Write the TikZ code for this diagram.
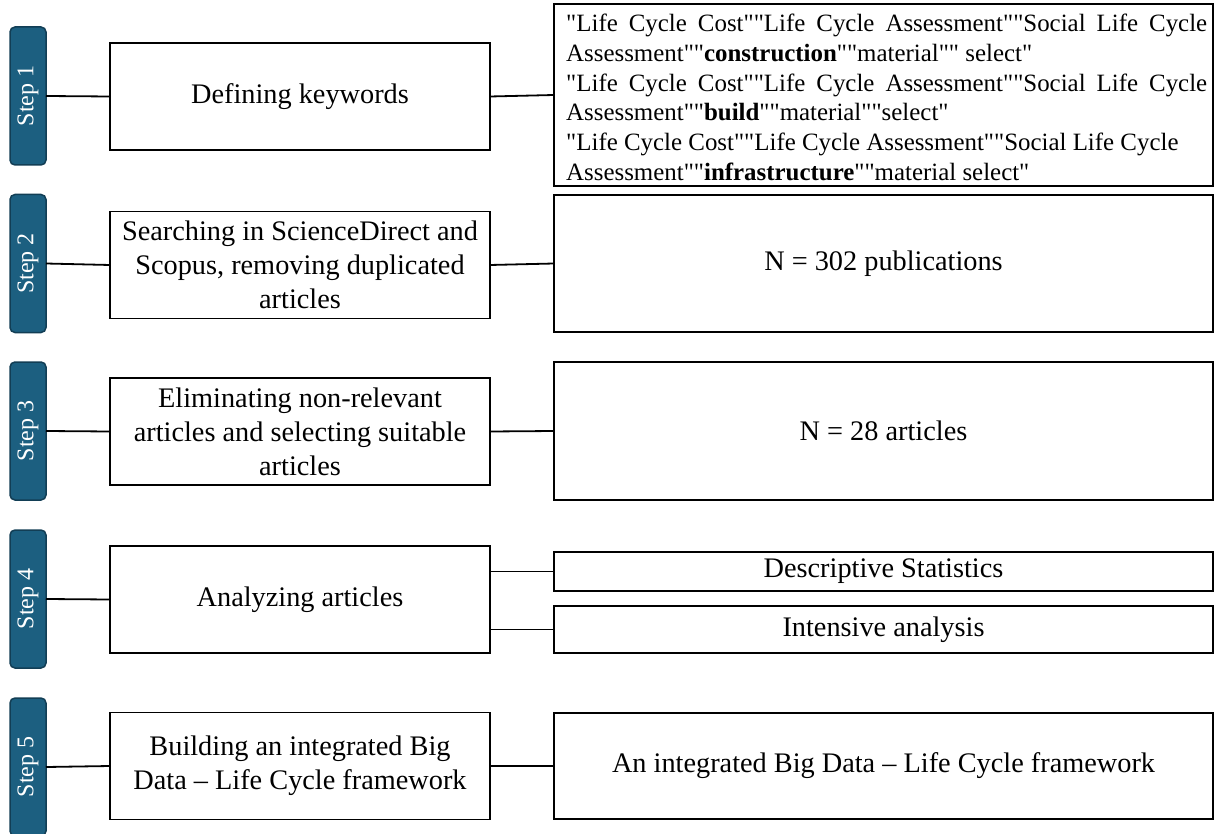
\documentclass[tikz,border=0pt]{standalone}
\usepackage{fontspec}
\setmainfont{Liberation Serif}[Ligatures=TeXOff]
\definecolor{stepfill}{HTML}{1C5F80}
\definecolor{stepdraw}{HTML}{123E55}
\begin{document}
\begin{tikzpicture}[x=1pt,y=-1pt,
  stepbox/.style={draw=stepdraw, fill=stepfill, line width=1.5pt, rounded corners=5pt,
    minimum width=138pt, minimum height=36pt, inner sep=0pt, outer sep=0pt, rotate=90,
    text=white, font=\fontsize{24}{26}\selectfont},
  leftbox/.style={draw, line width=1.6pt, minimum width=380pt, minimum height=107pt,
    inner sep=0pt, outer sep=0pt, align=center, font=\fontsize{28.3}{34}\selectfont},
  rightbox/.style={draw, line width=1.6pt, minimum width=659pt,
    inner sep=0pt, outer sep=0pt, align=center, font=\fontsize{28.3}{34}\selectfont},
  link/.style={line width=1.8pt}]
\useasboundingbox (0,0) rectangle (1215,834);
\clip (0,0) rectangle (1215,834);
% step labels
\node[stepbox] (s1) at (28,96) {Step 1};
\node[stepbox] (s2) at (28,263.5) {Step 2};
\node[stepbox] (s3) at (28,431) {Step 3};
\node[stepbox] (s4) at (28,599) {Step 4};
\node[stepbox] (s5) at (28,767) {Step 5};
% left boxes
\node[leftbox] (l1) at (300,96.5) {Defining keywords};
\node[leftbox] (l2) at (300,265) {Searching in ScienceDirect and\\Scopus, removing duplicated\\articles};
\node[leftbox] (l3) at (300,431.5) {Eliminating non-relevant\\articles and selecting suitable\\articles};
\node[leftbox] (l4) at (300,599.5) {Analyzing articles};
\node[leftbox] (l5) at (300,766) {Building an integrated Big\\Data – Life Cycle framework};
% right boxes
\node[rightbox, minimum height=182pt] (r1) at (883.5,95) {};
\node[anchor=north west, inner sep=0pt, align=left, font=\fontsize{24.9}{29.7}\selectfont] (r1t) at (566,14) {%
\makebox[641pt][s]{"Life Cycle Cost""Life Cycle Assessment""Social Life Cycle}\\
Assessment""\textbf{construction}""material"" select"\\
\makebox[641pt][s]{"Life Cycle Cost""Life Cycle Assessment""Social Life Cycle}\\
Assessment""\textbf{build}""material""select"\\
"Life Cycle Cost""Life Cycle Assessment""Social Life Cycle\\
Assessment""\textbf{infrastructure}""material select"};
\node[rightbox, minimum height=137pt] (r2) at (883.5,263.5) {N = 302 publications};
\node[rightbox, minimum height=138pt] (r3) at (883.5,431) {N = 28 articles};
\node[rightbox, minimum height=39pt] (r4a) at (883.5,571.5) {Descriptive Statistics};
\node[rightbox, minimum height=47pt] (r4b) at (883.5,629.5) {Intensive analysis};
\node[rightbox, minimum height=106pt] (r5) at (883.5,766) {An integrated Big Data – Life Cycle framework};
% connectors
\draw[link] (s1.south) -- (l1.west);
\draw[link] (s2.south) -- (l2.west);
\draw[link] (s3.south) -- (l3.west);
\draw[link] (s4.south) -- (l4.west);
\draw[link] (s5.south) -- (l5.west);
\draw[link] (l1.east) -- (r1.west);
\draw[link] (l2.east) -- (r2.west);
\draw[link] (l3.east) -- (r3.west);
\draw[link] (l4.east |- r4a.west) -- (r4a.west);
\draw[link] (l4.east |- r4b.west) -- (r4b.west);
\draw[link] (l5.east) -- (r5.west);
\end{tikzpicture}
\end{document}
